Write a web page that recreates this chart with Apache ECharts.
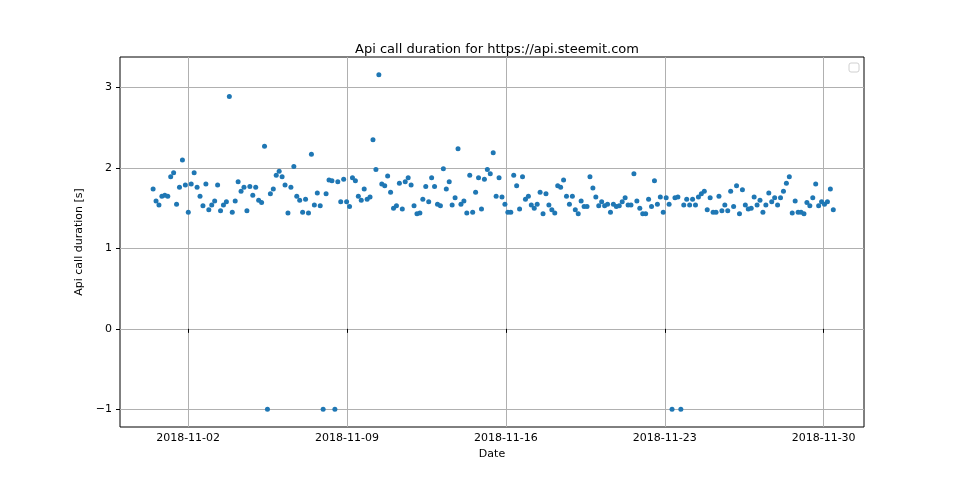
<!DOCTYPE html>
<html>
<head>
<meta charset="utf-8">
<script src="https://cdn.jsdelivr.net/npm/echarts@6/dist/echarts.min.js"></script>
<style>html,body{margin:0;background:#fff}#c{width:960px;height:480px}</style>
</head>
<body>
<div id="c"></div>
<script>
// api call duration in seconds, one sample roughly every 3.1 hours
const durations = [
  1.74,1.59,1.54,1.65,1.66,1.65,1.89,1.94,1.55,1.76,2.10,1.79,1.45,1.80,1.94,1.76,1.65,1.53,1.80,1.48,
  1.54,1.59,1.79,1.47,1.54,1.58,2.89,1.45,1.59,1.83,1.71,1.76,1.47,1.77,1.66,1.76,1.60,1.57,2.27,-1,
  1.68,1.74,1.91,1.96,1.89,1.79,1.44,1.76,2.02,1.65,1.60,1.45,1.61,1.44,2.17,1.54,1.69,1.53,-1,1.68,
  1.85,1.84,-1,1.83,1.58,1.86,1.58,1.52,1.88,1.84,1.65,1.60,1.74,1.61,1.64,2.35,1.98,3.16,1.80,1.78,
  1.90,1.70,1.50,1.53,1.81,1.49,1.83,1.88,1.79,1.53,1.43,1.44,1.61,1.77,1.58,1.88,1.77,1.55,1.53,1.99,
  1.74,1.83,1.54,1.63,2.24,1.55,1.59,1.44,1.91,1.45,1.70,1.88,1.49,1.86,1.98,1.93,2.19,1.65,1.88,1.64,
  1.55,1.45,1.45,1.91,1.78,1.49,1.89,1.61,1.65,1.54,1.50,1.55,1.70,1.43,1.68,1.54,1.48,1.44,1.78,1.76,
  1.85,1.65,1.55,1.65,1.48,1.43,1.59,1.52,1.52,1.89,1.75,1.64,1.53,1.58,1.53,1.55,1.45,1.55,1.52,1.53,
  1.58,1.63,1.54,1.54,1.93,1.59,1.50,1.43,1.43,1.61,1.52,1.84,1.55,1.64,1.45,1.63,1.55,-1,1.63,1.64,
  -1,1.54,1.61,1.54,1.61,1.54,1.64,1.68,1.71,1.48,1.63,1.45,1.45,1.65,1.47,1.54,1.47,1.71,1.52,1.78,
  1.43,1.73,1.54,1.49,1.50,1.64,1.54,1.60,1.45,1.54,1.69,1.58,1.63,1.54,1.63,1.71,1.81,1.89,1.44,1.59,
  1.45,1.45,1.43,1.57,1.53,1.63,1.80,1.53,1.58,1.55,1.58,1.74,1.48
];
const firstSample = Date.UTC(2018, 9, 31, 11, 0);
const sampleStepHours = 3.1;
const tickDates = ['2018-11-02','2018-11-09','2018-11-16','2018-11-23','2018-11-30'];

const H = 3600 * 1000;
const points = durations.map((v, i) => [firstSample + i * sampleStepHours * H, v]);
const tickMs = tickDates.map(d => Date.parse(d + 'T00:00:00Z'));
const pad = n => String(n).padStart(2, '0');
const fmtDate = ms => { const d = new Date(ms); return d.getUTCFullYear() + '-' + pad(d.getUTCMonth() + 1) + '-' + pad(d.getUTCDate()); };

const chart = echarts.init(document.getElementById('c'));
chart.setOption({
  animation: false,
  textStyle: { fontFamily: 'DejaVu Sans' },
  title: {
    text: 'Api call duration for https://api.steemit.com',
    left: 492, top: 38, textAlign: 'center',
    textStyle: { fontSize: 13, fontWeight: 'normal', color: '#000' }
  },
  grid: { left: 120, right: 96, top: 57, bottom: 53, show: true, borderColor: '#000', borderWidth: 1 },
  xAxis: {
    type: 'value',
    min: Date.UTC(2018, 9, 30, 0, 0),
    max: Date.UTC(2018, 11, 1, 18, 40),
    name: 'Date', nameLocation: 'middle', nameGap: 22,
    nameTextStyle: { color: '#000', fontSize: 11 },
    axisLine: { show: false },
    axisTick: { customValues: tickMs, length: 4, lineStyle: { color: '#000' } },
    axisLabel: { customValues: tickMs, formatter: v => fmtDate(v), color: '#000', fontSize: 11, margin: 6 },
    splitLine: { show: true, lineStyle: { color: '#b0b0b0', width: 1 } }
  },
  yAxis: {
    type: 'value', min: -1.22, max: 3.38,
    name: 'Api call duration [s]', nameLocation: 'middle', nameGap: 30,
    nameTextStyle: { color: '#000', fontSize: 11 },
    axisLine: { show: false },
    axisTick: { customValues: [-1, 0, 1, 2, 3], length: 4, lineStyle: { color: '#000' } },
    axisLabel: { customValues: [-1, 0, 1, 2, 3], formatter: v => String(v).replace('-', '\u2212'), color: '#000', fontSize: 11 },
    splitLine: { show: true, lineStyle: { color: '#b0b0b0', width: 1 } }
  },
  graphic: [{
    type: 'rect', shape: { x: 849, y: 63, width: 10, height: 9, r: 2 },
    style: { fill: '#fff', stroke: '#d0d0d0', lineWidth: 1 }
  }],
  series: [{
    type: 'scatter', data: points, symbolSize: 5,
    itemStyle: { color: '#1f77b4', opacity: 1 }
  }]
});
</script>
</body>
</html>
